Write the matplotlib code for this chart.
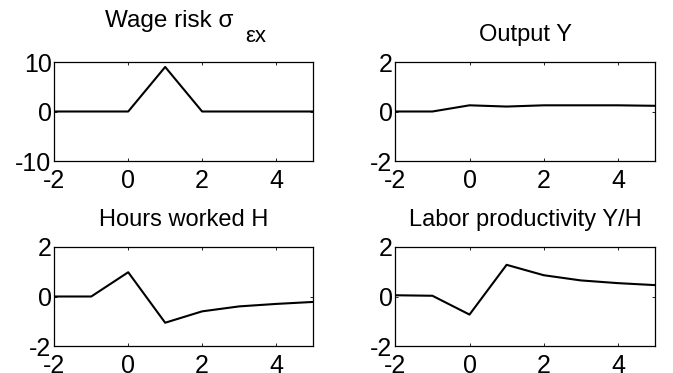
import matplotlib
matplotlib.use("Agg")
import matplotlib.pyplot as plt

plt.rcParams['font.family'] = ['Liberation Sans', 'DejaVu Sans']
plt.rcParams['axes.unicode_minus'] = False

# Impulse responses, periods -2..5
periods = [-2, -1, 0, 1, 2, 3, 4, 5]
wage_risk = [0, 0, 0, 9, 0, 0, 0, 0]
output_y = [0.0, 0.0, 0.25, 0.2, 0.25, 0.25, 0.25, 0.23]
hours_h = [0.0, 0.0, 0.98, -1.06, -0.6, -0.4, -0.3, -0.22]
productivity = [0.05, 0.03, -0.73, 1.28, 0.86, 0.65, 0.54, 0.46]

x_ticks = [-2, 0, 2, 4]

W, H = 673, 373
fig = plt.figure(figsize=(W / 100, H / 100), dpi=100)


def px_axes(left, top, right, bottom):
    return fig.add_axes([left / W, 1 - bottom / H, (right - left) / W, (bottom - top) / H])


panels = [
    (px_axes(54.3, 62, 313, 161), wage_risk, (-10, 10), [-10, 0, 10], None),
    (px_axes(395.3, 62, 655, 161), output_y, (-2, 2), [-2, 0, 2], "Output Y"),
    (px_axes(54.3, 247, 313, 346), hours_h, (-2, 2), [-2, 0, 2], "Hours worked H"),
    (px_axes(395.3, 247, 655, 346), productivity, (-2, 2), [-2, 0, 2], "Labor productivity Y/H"),
]

for ax, series, ylim, yticks, title in panels:
    ax.plot(periods, series, color="black", lw=1.5)
    ax.set_xlim(-2, 5)
    ax.set_ylim(*ylim)
    ax.set_xticks(x_ticks)
    ax.set_yticks(yticks)
    ax.tick_params(direction="in", length=2.5, width=0.6, labelsize=18,
                   top=True, right=True)
    ax.tick_params(axis="x", pad=6)
    ax.tick_params(axis="y", pad=2)
    for sp in ax.spines.values():
        sp.set_linewidth(0.9)
    if title:
        ax.set_title(title, fontsize=17, pad=15)

# Title with subscript for the wage-risk panel
fig.text(233 / W, 1 - 27.5 / H, "Wage risk σ", fontsize=17.5, ha="right", va="baseline")
fig.text(245 / W, 1 - 41.5 / H, "εx", fontsize=16, ha="left", va="baseline")

fig.savefig("out.png", dpi=100)
